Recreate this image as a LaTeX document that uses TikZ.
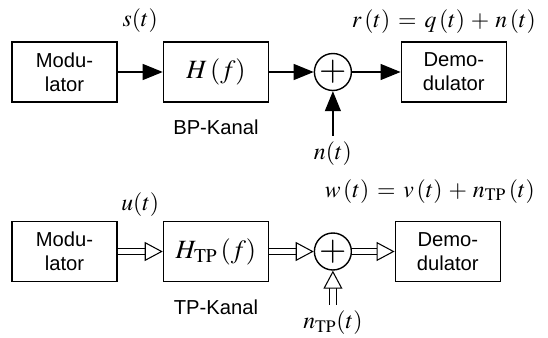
\documentclass[tikz,border=0pt]{standalone}
\usepackage{mathptmx}
\usepackage{fontspec}
\setsansfont{Liberation Sans}
\usetikzlibrary{positioning, arrows.meta}
\newcommand{\wideops}{\thickmuskip=6mu\relax\medmuskip=4.5mu\relax}

\begin{document}
\begin{tikzpicture}[x=0.02cm, y=-0.02cm, font=\fontsize{11.5}{13.5}\selectfont]
\tikzstyle{box} = [rectangle, minimum width=2.1cm, minimum height=1.2cm, align=center, draw=black, line width=0.85pt, font=\sffamily\fontsize{11.5}{13.5}\selectfont]
\tikzstyle{filt} = [box, font=\fontsize{15}{18}\selectfont]
\tikzstyle{adder} = [circle, draw=black, line width=0.8pt, inner sep=0pt, minimum size=0.74cm, font=\fontsize{20}{20}\selectfont]
\tikzstyle{lbl} = [font=\fontsize{13.5}{16}\selectfont]
\tikzstyle{arrow} = [line width=0.7pt, -{Triangle[length=0.4cm, width=0.32cm]}]
\tikzstyle{hollow} = [preaction={draw=black, double=white, double distance=3.2pt, line width=0.6pt, shorten >=0.35cm, -},
  draw=white, line width=0.6pt, -{Triangle[color=black, open, fill=white, length=0.36cm, width=0.38cm]}]
\useasboundingbox (0,0) rectangle (548,338);

% Nodes: BP
\node (mod1) [box] at (64.5,72) {Modu-\\lator};
\node (chan1) [filt, right=0.9cm of mod1] {$H\left(f\right)$};
\node (sum1) [adder, right=0.89cm of chan1] {$+$};
\node (demod1) [box, right=0.97cm of sum1] {Demo-\\dulator};
\node (noise1) [lbl, below=0.89cm of sum1] {$n(t)$};
\node (bplabel) [below=0.22cm of chan1, font=\sffamily\fontsize{11.5}{13.5}\selectfont] {BP-Kanal};
\node (rlabel) [lbl, anchor=south east, xshift=0.7cm, yshift=0.04cm] at (demod1.north east) {\wideops$r\left(t\right)=q\left(t\right)+n\left(t\right)$};

% Nodes: TP
\node (mod2) [box] at (64.5,251.5) {Modu-\\lator};
\node (chan2) [filt, right=0.9cm of mod2] {$H_{\mathrm{TP}}\left(f\right)$};
\node (sum2) [adder, right=0.89cm of chan2] {$+$};
\node (demod2) [box, right=0.85cm of sum2] {Demo-\\dulator};
\node (noise2) [lbl, below=0.68cm of sum2] {$n_{\mathrm{TP}}(t)$};
\node (tplabel) [below=0.22cm of chan2, font=\sffamily\fontsize{11.5}{13.5}\selectfont] {TP-Kanal};
\node (wlabel) [lbl, anchor=south east, xshift=0.8cm, yshift=0.23cm] at (demod2.north east) {\wideops$w\left(t\right)=v\left(t\right)+n_{\mathrm{TP}}\left(t\right)$};

% Arrows
\draw [arrow] (mod1) -- node (slabel) [lbl, above=0.66cm] {$s(t)$} (chan1);
\draw [arrow] (chan1) -- (sum1);
\draw [arrow] (sum1) -- (demod1);
\draw [arrow] (noise1) -- (sum1);

\draw [hollow] (mod2) -- node (ulabel) [lbl, above=0.58cm] {$u(t)$} (chan2);
\draw [hollow] (chan2) -- (sum2);
\draw [hollow] (sum2) -- (demod2);
\draw [hollow] (noise2) -- (sum2);

\end{tikzpicture}
\end{document}
